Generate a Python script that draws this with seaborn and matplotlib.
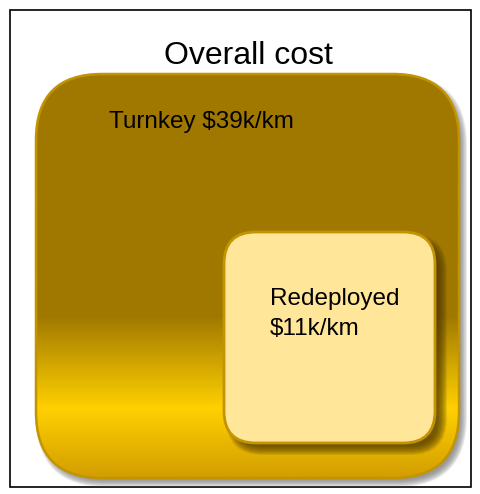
import numpy as np
import seaborn as sns
import matplotlib.pyplot as plt
from matplotlib.patches import FancyBboxPatch, Rectangle
from matplotlib.colors import LinearSegmentedColormap

# Texts and values
title = "Overall cost"
options = ["Turnkey", "Redeployed"]
cost_per_km = [39, 11]  # $k/km

# gradient of the big box (position from top, colour)
grad_stops = [0.0, 0.60, 0.83, 1.0]
grad_colors = ["#a07800", "#a07800", "#ffd000", "#d29e00"]


def rbox(ax, x0, y0, x1, y1, r, **kw):
    p = FancyBboxPatch((x0, y0), x1 - x0, y1 - y0,
                       boxstyle=f"round,pad=0,rounding_size={r}", **kw)
    ax.add_patch(p)
    return p


def soft_shadow(ax, x0, y0, x1, y1, r, dx, dy, blur, color, alpha):
    # stack of slightly shrinking boxes gives a blurry edge
    n = 10
    for i in range(n):
        s = blur * (1 - 2 * i / n)
        rbox(ax, x0 + dx - s, y0 + dy - s, x1 + dx + s, y1 + dy + s,
             max(r + s, 1), facecolor=color, edgecolor="none",
             alpha=alpha / n * 1.6, zorder=1)


def main():
    sns.set_theme(style="white")
    plt.rcParams["font.family"] = ["Liberation Sans", "DejaVu Sans"]

    fig = plt.figure(figsize=(4.8, 4.94), dpi=100)
    ax = fig.add_axes([0, 0, 1, 1])
    ax.set_xlim(0, 480)
    ax.set_ylim(494, 0)
    ax.axis("off")

    # outer frame
    ax.add_patch(Rectangle((10, 10), 461, 477, facecolor="white",
                           edgecolor="black", linewidth=1.2, zorder=0))

    ax.text(248, 64, title, fontsize=23, ha="center", va="baseline",
            color="black", zorder=10)

    # big box
    X0, Y0, X1, Y1, R = 36, 74, 459, 478, 66
    soft_shadow(ax, X0, Y0, X1, Y1, R, 4, 5, 4, "#7a7a7a", 0.8)
    base = rbox(ax, X0, Y0, X1, Y1, R, facecolor="#a07800",
                edgecolor="none", zorder=2)
    cmap = LinearSegmentedColormap.from_list(
        "gold", list(zip(grad_stops, grad_colors)))
    g = np.linspace(0, 1, 400).reshape(-1, 1)
    im = ax.imshow(g, cmap=cmap, extent=(X0, X1, Y1, Y0), aspect="auto",
                   interpolation="bilinear", zorder=3)
    im.set_clip_path(base)
    rbox(ax, X0, Y0, X1, Y1, R, facecolor="none", edgecolor="#c49400",
         linewidth=1.8, zorder=4)
    ax.set_xlim(0, 480)
    ax.set_ylim(494, 0)

    ax.text(109, 128, f"{options[0]} ${cost_per_km[0]}k/km", fontsize=17.5,
            ha="left", va="baseline", color="black", zorder=10)

    # small box
    x0, y0, x1, y1, r = 224, 232, 435, 443, 32
    n = 10
    for i in range(n):
        s = 5 * (1 - 2 * i / n)
        rbox(ax, x0 + 7 - s, y0 + 7 - s, x1 + 7 + s, y1 + 7 + s, r + s,
             facecolor="#4a3500", edgecolor="none", alpha=0.12, zorder=5)
    rbox(ax, x0, y0, x1, y1, r, facecolor="#ffe699", edgecolor="#c49400",
         linewidth=2, zorder=6)

    ax.text(270, 305, options[1], fontsize=17.5, ha="left", va="baseline",
            color="black", zorder=10)
    ax.text(270, 335, f"${cost_per_km[1]}k/km", fontsize=17.5, ha="left",
            va="baseline", color="black", zorder=10)

    fig.savefig("out.png", dpi=100)


if __name__ == "__main__":
    main()
